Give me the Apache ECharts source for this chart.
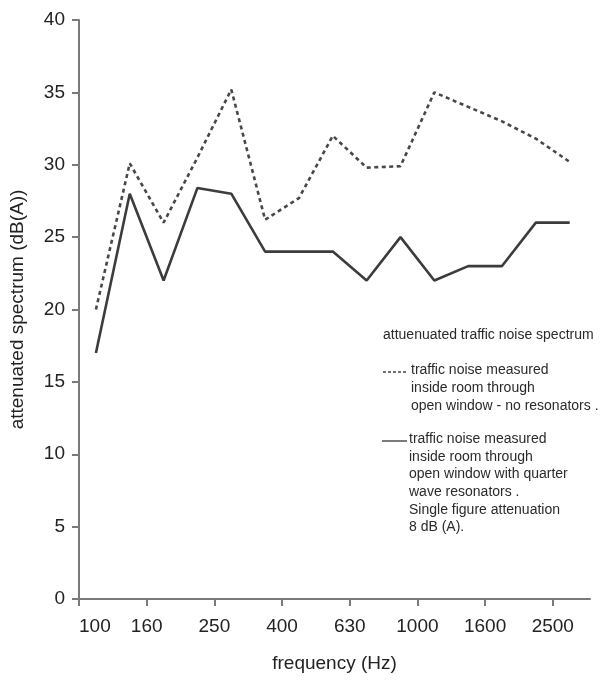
<!DOCTYPE html>
<html>
<head>
<meta charset="utf-8">
<script src="https://cdn.jsdelivr.net/npm/echarts@6/dist/echarts.min.js"></script>
<style>
html,body{margin:0;padding:0;background:#fff;}
#chart{width:600px;height:681px;}
</style>
</head>
<body>
<div id="chart"></div>
<script>
// third-octave band tick labels (every other band is labelled)
const tickLabels = ['100', '160', '250', '400', '630', '1000', '1600', '2500'];
const tickBandIndex = [0, 2, 4, 6, 8, 10, 12, 14];
// measured values, one per band interval (plotted mid-band)
const noResonators = [20, 30.1, 26, 30.5, 35.2, 26.2, 27.7, 32, 29.8, 29.9, 35, 34, 33, 31.8, 30.2];
const withResonators = [17, 28, 22, 28.4, 28, 24, 24, 24, 22, 25, 22, 23, 23, 26, 26];

const legendTitle = 'attuenuated traffic noise spectrum';
const legendDashed = ['traffic noise measured', 'inside room through', 'open window - no resonators .'];
const legendSolid = ['traffic noise measured', 'inside room through', 'open window with quarter', 'wave resonators .', 'Single figure attenuation', '8 dB (A).'];

const FONT = '"Liberation Sans", Arial, sans-serif';
const toPairs = arr => arr.map((v, i) => [i + 0.5, v]);

const chart = echarts.init(document.getElementById('chart'), null, {renderer: 'canvas'});

const graphics = [];
graphics.push({type: 'text', left: 383, top: 328, style: {text: legendTitle, font: '14px ' + FONT, fill: '#2a2a2a'}});
graphics.push({type: 'line', shape: {x1: 383, y1: 372, x2: 408, y2: 372}, style: {stroke: '#444', lineWidth: 1.3, lineDash: [3, 2]}});
legendDashed.forEach((t, i) => graphics.push({type: 'text', left: 411, top: 363 + i * 18, style: {text: t, font: '14px ' + FONT, fill: '#2a2a2a'}}));
graphics.push({type: 'line', shape: {x1: 382, y1: 441, x2: 407, y2: 441}, style: {stroke: '#333', lineWidth: 1.3}});
legendSolid.forEach((t, i) => graphics.push({type: 'text', left: 409, top: 432 + i * 17.7, style: {text: t, font: '14px ' + FONT, fill: '#2a2a2a'}}));

chart.setOption({
  animation: false,
  backgroundColor: '#fff',
  grid: {left: 79, right: 10, top: 20, bottom: 82, containLabel: false},
  xAxis: {
    type: 'value', min: 0, max: 15.1,
    name: 'frequency (Hz)', nameLocation: 'middle', nameGap: 55,
    nameTextStyle: {fontSize: 19, fontFamily: FONT, color: '#222'},
    axisLine: {show: true, onZero: false, lineStyle: {color: '#7a7a7a', width: 2}},
    axisTick: {show: true, length: 7, lineStyle: {color: '#7a7a7a', width: 2}, customValues: tickBandIndex},
    axisLabel: {
      customValues: tickBandIndex, margin: 18, fontSize: 19, fontFamily: FONT, color: '#222',
      alignMinLabel: 'left',
      formatter: v => { const k = tickBandIndex.indexOf(Math.round(v)); return k >= 0 ? tickLabels[k] : ''; }
    },
    splitLine: {show: false}
  },
  yAxis: {
    type: 'value', min: 0, max: 40, interval: 5,
    name: 'attenuated spectrum (dB(A))', nameLocation: 'middle', nameGap: 52, nameRotate: 90,
    nameTextStyle: {fontSize: 19, fontFamily: FONT, color: '#222'},
    axisLine: {show: true, lineStyle: {color: '#7a7a7a', width: 2}},
    axisTick: {show: true, length: 7, lineStyle: {color: '#7a7a7a', width: 2}},
    axisLabel: {margin: 14, fontSize: 19, fontFamily: FONT, color: '#222'},
    splitLine: {show: false}
  },
  series: [
    {
      name: 'no resonators', type: 'line', data: toPairs(noResonators), symbol: 'none',
      lineStyle: {color: '#474747', width: 2.6, type: [4, 3.5]}
    },
    {
      name: 'with quarter wave resonators', type: 'line', data: toPairs(withResonators), symbol: 'none',
      lineStyle: {color: '#3c3c3c', width: 2.6}
    }
  ],
  graphic: graphics
});
</script>
</body>
</html>
